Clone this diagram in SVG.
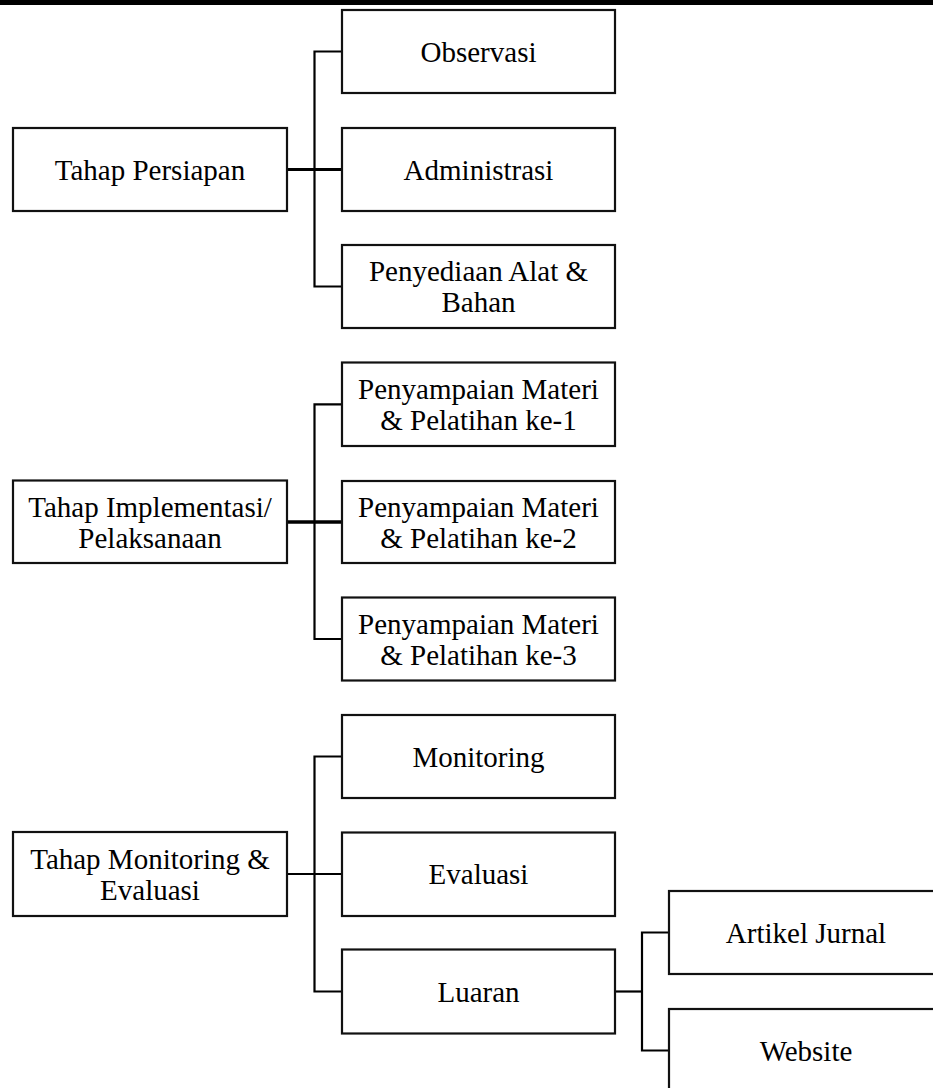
<svg xmlns="http://www.w3.org/2000/svg" width="933" height="1088" viewBox="0 0 933 1088">
<style>
.box{fill:#fff;stroke:#111;stroke-width:2.2}
.t{font-family:"Liberation Serif","Times New Roman",serif;font-size:29px;fill:#000;text-anchor:middle}
.c{fill:none;stroke:#000;stroke-width:2.2}
</style>
<rect x="0" y="0" width="933" height="5" fill="#000"/>
<g id="connectors">
<path class="c" d="M342 51.5H314.5V286.5H342"/>
<path class="c" d="M287 169.5H342" style="stroke-width:2.8"/>
<path class="c" d="M342 404.3H314.5V639H342"/>
<path class="c" d="M287 522H342" style="stroke-width:3.6"/>
<path class="c" d="M342 756.5H314.5V991.5H342"/>
<path class="c" d="M287 874H342"/>
<path class="c" d="M615 991.5H642"/>
<path class="c" d="M669 932.5H642V1050.5H669"/>
</g>
<g id="tahap-persiapan"><rect class="box" x="13" y="128" width="274" height="83"/><text class="t" x="150" y="179.5">Tahap Persiapan</text></g>
<g id="observasi"><rect class="box" x="342" y="10" width="273" height="83"/><text class="t" x="478.5" y="61.5">Observasi</text></g>
<g id="administrasi"><rect class="box" x="342" y="128" width="273" height="83"/><text class="t" x="478.5" y="179.5">Administrasi</text></g>
<g id="penyediaan"><rect class="box" x="342" y="245" width="273" height="83"/><text class="t" x="478.5" y="281">Penyediaan Alat &amp;</text><text class="t" x="478.5" y="312">Bahan</text></g>
<g id="tahap-implementasi"><rect class="box" x="13" y="480.5" width="274" height="82.5"/><text class="t" x="150" y="516.5">Tahap Implementasi/</text><text class="t" x="150" y="547.5">Pelaksanaan</text></g>
<g id="materi-1"><rect class="box" x="342" y="362.5" width="273" height="83.5"/><text class="t" x="478.5" y="398.5">Penyampaian Materi</text><text class="t" x="478.5" y="429.5">&amp; Pelatihan ke-1</text></g>
<g id="materi-2"><rect class="box" x="342" y="481" width="273" height="82"/><text class="t" x="478.5" y="516.5">Penyampaian Materi</text><text class="t" x="478.5" y="547.5">&amp; Pelatihan ke-2</text></g>
<g id="materi-3"><rect class="box" x="342" y="597.5" width="273" height="83"/><text class="t" x="478.5" y="633.5">Penyampaian Materi</text><text class="t" x="478.5" y="664.5">&amp; Pelatihan ke-3</text></g>
<g id="tahap-monitoring"><rect class="box" x="13" y="832" width="274" height="84"/><text class="t" x="150" y="868.5">Tahap Monitoring &amp;</text><text class="t" x="150" y="899.5">Evaluasi</text></g>
<g id="monitoring"><rect class="box" x="342" y="715" width="273" height="83"/><text class="t" x="478.5" y="766.5">Monitoring</text></g>
<g id="evaluasi"><rect class="box" x="342" y="832.5" width="273" height="83.5"/><text class="t" x="478.5" y="884">Evaluasi</text></g>
<g id="luaran"><rect class="box" x="342" y="949.5" width="273" height="84"/><text class="t" x="478.5" y="1001.5">Luaran</text></g>
<g id="artikel-jurnal"><rect class="box" x="669" y="891" width="275" height="83"/><text class="t" x="806" y="942.5">Artikel Jurnal</text></g>
<g id="website"><rect class="box" x="669" y="1009" width="275" height="83"/><text class="t" x="806" y="1060.5">Website</text></g>
</svg>
